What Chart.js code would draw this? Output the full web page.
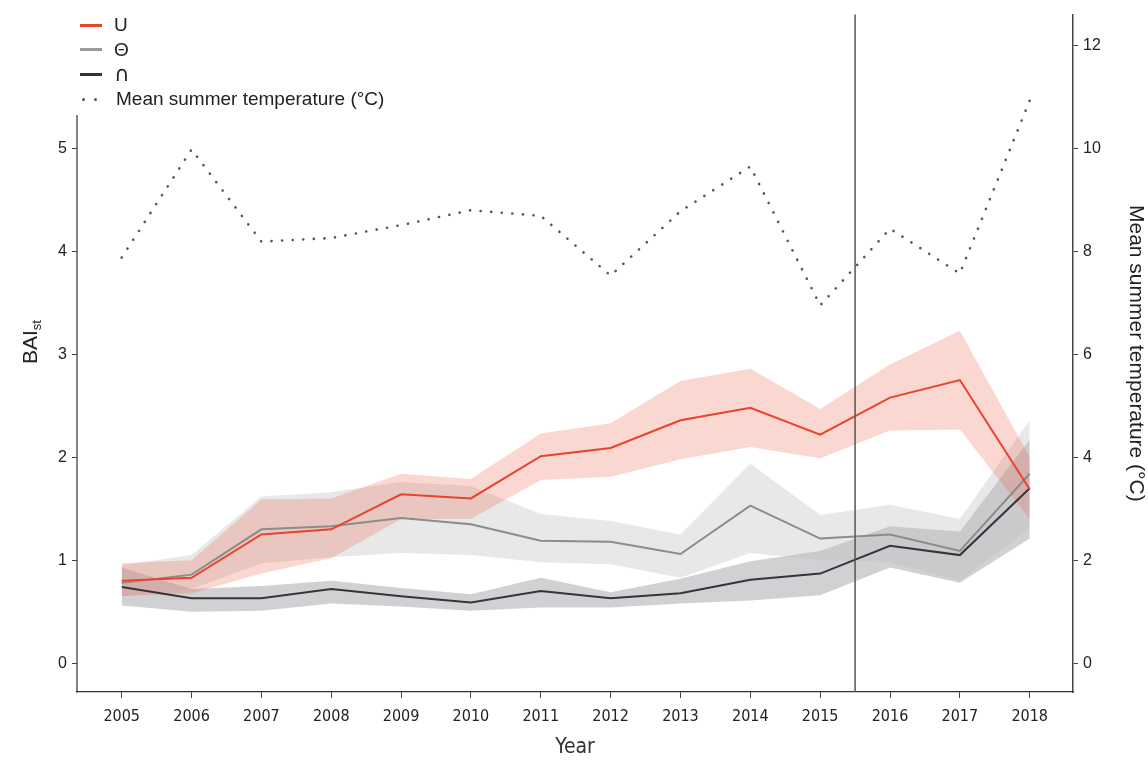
<!DOCTYPE html>
<html>
<head>
<meta charset="utf-8">
<script src="https://cdn.jsdelivr.net/npm/chart.js@4/dist/chart.umd.min.js"></script>
<style>
  body { margin: 0; background: #fff; }
  #wrap { position: relative; width: 1148px; height: 760px; }
  #legend { position: absolute; left: 80px; top: 13px; font: 19px "Liberation Sans", Arial, sans-serif; color: #222; }
  .item { height: 24.6px; line-height: 24.6px; display: flex; align-items: center; }
  .swatch { width: 22px; height: 3px; margin-right: 12px; flex: none; }
  .sym { font-family: "DejaVu Sans", sans-serif; font-size: 21px; line-height: 20px; }
  .dots { width: 22px; margin-right: 12px; display: flex; gap: 9px; padding-left: 2px; flex: none; }
  .dots span { width: 3px; height: 3px; border-radius: 50%; background: #555; }
</style>
</head>
<body>
<div id="wrap">
  <canvas id="chart" width="1148" height="760"></canvas>
  <div id="legend">
    <div class="item"><div class="swatch" style="background:#e8432d"></div>U</div>
    <div class="item"><div class="swatch" style="background:#9a9a9a"></div>Θ</div>
    <div class="item"><div class="swatch" style="background:#333338"></div><span class="sym">∩</span></div>
    <div class="item"><div class="dots"><span></span><span></span></div>Mean summer temperature (°C)</div>
  </div>
</div>
<script>
const years = [2005, 2006, 2007, 2008, 2009, 2010, 2011, 2012, 2013, 2014, 2015, 2016, 2017, 2018];

// U group
const uMean = [0.80, 0.83, 1.25, 1.30, 1.64, 1.60, 2.01, 2.09, 2.36, 2.48, 2.22, 2.58, 2.75, 1.69];
const uLow  = [0.65, 0.68, 0.87, 1.02, 1.40, 1.40, 1.78, 1.81, 1.98, 2.10, 1.99, 2.26, 2.27, 1.40];
const uHigh = [0.97, 1.00, 1.59, 1.60, 1.84, 1.79, 2.23, 2.33, 2.74, 2.86, 2.47, 2.90, 3.23, 2.00];

// Θ group
const thetaMean = [0.78, 0.86, 1.30, 1.33, 1.41, 1.35, 1.19, 1.18, 1.06, 1.53, 1.21, 1.25, 1.09, 1.84];
const thetaLow  = [0.65, 0.72, 0.97, 1.03, 1.07, 1.05, 0.98, 0.96, 0.83, 1.07, 1.00, 0.98, 0.80, 1.31];
const thetaHigh = [0.95, 1.05, 1.62, 1.66, 1.76, 1.72, 1.45, 1.38, 1.25, 1.94, 1.44, 1.54, 1.40, 2.36];

// ∩ group
const capMean = [0.74, 0.63, 0.63, 0.72, 0.65, 0.59, 0.70, 0.63, 0.68, 0.81, 0.87, 1.14, 1.05, 1.70];
const capLow  = [0.56, 0.50, 0.51, 0.58, 0.55, 0.51, 0.54, 0.54, 0.58, 0.61, 0.66, 0.93, 0.78, 1.21];
const capHigh = [0.93, 0.72, 0.75, 0.80, 0.73, 0.67, 0.83, 0.69, 0.82, 0.99, 1.09, 1.33, 1.28, 2.17];

// mean summer temperature, right axis
const temperature = [7.88, 9.98, 8.19, 8.26, 8.51, 8.80, 8.69, 7.53, 8.78, 9.65, 6.95, 8.44, 7.57, 10.93];

const baiTicks = [0, 1, 2, 3, 4, 5];
const tempTicks = [0, 2, 4, 6, 8, 10, 12];
const breakYear = 2015.5;

const pts = arr => arr.map((v, i) => ({ x: years[i], y: v }));

function line(data, color, axis) {
  return { data: pts(data), borderColor: color, borderWidth: 2, pointRadius: 0, fill: false, tension: 0, yAxisID: axis || "y" };
}
function band(data, color, target) {
  return { data: pts(data), borderWidth: 0, borderColor: "rgba(0,0,0,0)", backgroundColor: color, pointRadius: 0, tension: 0, fill: target === undefined ? false : { target } };
}

const textFont = '"Liberation Sans", Arial, sans-serif';
const narrowFont = '"DejaVu Sans Condensed", "Liberation Sans Narrow", "Arial Narrow", sans-serif';

// extra drawing: left axis line, BAIst title, the 2015/16 break line
const extras = {
  id: "extras",
  afterDraw(chart) {
    const ctx = chart.ctx;
    const { top, bottom, left } = chart.chartArea;
    const x = chart.scales.x.getPixelForValue(breakYear);
    ctx.save();
    ctx.strokeStyle = "#555";
    ctx.lineWidth = 1.5;
    ctx.beginPath();
    ctx.moveTo(x, top);
    ctx.lineTo(x, bottom);
    ctx.stroke();

    ctx.strokeStyle = "#333";
    ctx.lineWidth = 1.2;
    ctx.beginPath();
    ctx.moveTo(left, 115);
    ctx.lineTo(left, bottom + 0.5);
    ctx.stroke();

    ctx.translate(31, 342);
    ctx.rotate(-Math.PI / 2);
    ctx.fillStyle = "#222";
    ctx.textBaseline = "middle";
    ctx.font = "21px " + textFont;
    const w = ctx.measureText("BAI").width;
    ctx.font = "13px " + textFont;
    const w2 = ctx.measureText("st").width;
    const start = -(w + w2) / 2;
    ctx.font = "21px " + textFont;
    ctx.fillText("BAI", start, 0);
    ctx.font = "13px " + textFont;
    ctx.fillText("st", start + w, 6);
    ctx.restore();
  }
};

new Chart(document.getElementById("chart"), {
  type: "line",
  data: {
    datasets: [
      line(uMean, "#e8432d"),
      line(thetaMean, "#8c8c8c"),
      line(capMean, "#35353a"),
      { data: pts(temperature), yAxisID: "y2", borderColor: "#555", borderWidth: 2.6, borderDash: [0.1, 10.5], borderCapStyle: "round", pointRadius: 0, fill: false, tension: 0 },
      band(uHigh, "rgba(240, 95, 75, 0.25)", 5),
      band(uLow, "rgba(0,0,0,0)"),
      band(thetaHigh, "rgba(190, 190, 190, 0.35)", 7),
      band(thetaLow, "rgba(0,0,0,0)"),
      band(capHigh, "rgba(115, 115, 125, 0.33)", 9),
      band(capLow, "rgba(0,0,0,0)")
    ]
  },
  options: {
    responsive: false,
    devicePixelRatio: 1,
    animation: false,
    layout: { padding: { top: 10, left: 0, right: 0, bottom: 0 } },
    plugins: {
      legend: { display: false },
      tooltip: { enabled: false },
      filler: { drawTime: "beforeDatasetsDraw" }
    },
    scales: {
      x: {
        type: "linear",
        min: 2004.36,
        max: 2018.62,
        afterBuildTicks: axis => { axis.ticks = years.map(v => ({ value: v })); },
        afterFit: axis => { axis.height = 68; },
        grid: { drawOnChartArea: false, tickLength: 6, color: "#444" },
        border: { display: true, color: "#333", width: 1.2 },
        ticks: { color: "#222", font: { family: narrowFont, size: 16 }, padding: 9, maxRotation: 0, callback: v => String(v) },
        title: { display: true, text: "Year", color: "#333", font: { family: narrowFont, size: 21 }, padding: { top: 0, bottom: 0 } }
      },
      y: {
        position: "left",
        min: -0.28,
        max: 6.3,
        afterBuildTicks: axis => { axis.ticks = baiTicks.map(v => ({ value: v })); },
        afterFit: axis => { axis.width = 77; },
        grid: { drawOnChartArea: false, tickLength: 5, color: "#444" },
        border: { display: false },
        ticks: { color: "#222", font: { family: textFont, size: 16 }, padding: 5 }
      },
      y2: {
        position: "right",
        min: -0.56,
        max: 12.6,
        afterBuildTicks: axis => { axis.ticks = tempTicks.map(v => ({ value: v })); },
        afterFit: axis => { axis.width = 75; },
        grid: { drawOnChartArea: false, tickLength: 5, color: "#444" },
        border: { display: true, color: "#444", width: 1.5 },
        ticks: { color: "#222", font: { family: textFont, size: 16 }, padding: 5 },
        title: { display: true, text: "Mean summer temperature (°C)", color: "#222", font: { family: textFont, size: 21 }, padding: { top: 0, bottom: 6 } }
      }
    }
  },
  plugins: [extras]
});
</script>
</body>
</html>
